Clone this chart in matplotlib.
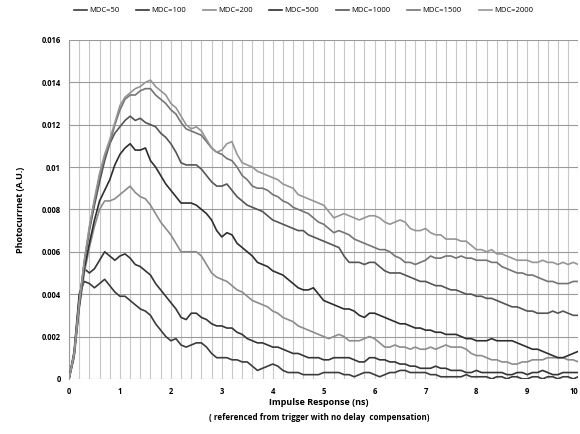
import numpy as np
import matplotlib
matplotlib.use("Agg")
import matplotlib.pyplot as plt
from matplotlib.ticker import MultipleLocator

# time axis, 0.1 ns sampling
t_ns = np.round(np.arange(0, 10.01, 0.1), 2)

mdc_2000 = [
    0.0000, 0.0012, 0.0036, 0.0056, 0.0072, 0.0085, 0.0097, 0.0106, 0.0113, 0.0121,
    0.0129, 0.0133, 0.0135, 0.0137, 0.0138, 0.0140, 0.0141, 0.0138, 0.0136, 0.0134,
    0.0130, 0.0128, 0.0124, 0.0120, 0.0118, 0.0119, 0.0117, 0.0113, 0.0109, 0.0107,
    0.0108, 0.0111, 0.0112, 0.0106, 0.0102, 0.0101, 0.0100, 0.0098, 0.0097, 0.0096,
    0.0095, 0.0094, 0.0092, 0.0091, 0.0090, 0.0087, 0.0086, 0.0085, 0.0084, 0.0083,
    0.0082, 0.0079, 0.0076, 0.0077, 0.0078, 0.0077, 0.0076, 0.0075, 0.0076, 0.0077,
    0.0077, 0.0076, 0.0074, 0.0073, 0.0074, 0.0075, 0.0074, 0.0071, 0.0070, 0.0070,
    0.0071, 0.0069, 0.0068, 0.0068, 0.0066, 0.0066, 0.0066, 0.0065, 0.0065, 0.0063,
    0.0061, 0.0061, 0.0060, 0.0061, 0.0059, 0.0059, 0.0058, 0.0057, 0.0056, 0.0056,
    0.0056, 0.0055, 0.0055, 0.0056, 0.0055, 0.0055, 0.0054, 0.0055, 0.0054, 0.0055,
    0.0054,
]

mdc_1500 = [
    0.0000, 0.0011, 0.0035, 0.0055, 0.0071, 0.0084, 0.0096, 0.0105, 0.0111, 0.0120,
    0.0127, 0.0132, 0.0134, 0.0134, 0.0136, 0.0137, 0.0137, 0.0134, 0.0132, 0.0130,
    0.0127, 0.0125, 0.0121, 0.0118, 0.0117, 0.0116, 0.0115, 0.0112, 0.0109, 0.0107,
    0.0106, 0.0104, 0.0103, 0.0100, 0.0096, 0.0094, 0.0091, 0.0090, 0.0090, 0.0089,
    0.0087, 0.0086, 0.0084, 0.0083, 0.0081, 0.0080, 0.0079, 0.0078, 0.0076, 0.0074,
    0.0073, 0.0071, 0.0069, 0.0070, 0.0069, 0.0068, 0.0066, 0.0065, 0.0064, 0.0063,
    0.0062, 0.0061, 0.0061, 0.0060, 0.0058, 0.0057, 0.0055, 0.0055, 0.0054, 0.0055,
    0.0056, 0.0058, 0.0057, 0.0057, 0.0058, 0.0058, 0.0057, 0.0058, 0.0057, 0.0057,
    0.0056, 0.0056, 0.0056, 0.0055, 0.0055, 0.0053, 0.0052, 0.0051, 0.0050, 0.0050,
    0.0049, 0.0049, 0.0048, 0.0047, 0.0046, 0.0046, 0.0045, 0.0045, 0.0045, 0.0046,
    0.0046,
]

mdc_1000 = [
    0.0000, 0.0012, 0.0036, 0.0055, 0.0070, 0.0082, 0.0093, 0.0103, 0.0111, 0.0116,
    0.0119, 0.0122, 0.0124, 0.0122, 0.0123, 0.0121, 0.0120, 0.0119, 0.0116, 0.0114,
    0.0111, 0.0107, 0.0102, 0.0101, 0.0101, 0.0101, 0.0099, 0.0096, 0.0093, 0.0091,
    0.0091, 0.0092, 0.0089, 0.0086, 0.0084, 0.0082, 0.0081, 0.0080, 0.0079, 0.0077,
    0.0075, 0.0074, 0.0073, 0.0072, 0.0071, 0.0070, 0.0070, 0.0068, 0.0067, 0.0066,
    0.0065, 0.0064, 0.0063, 0.0062, 0.0058, 0.0055, 0.0055, 0.0055, 0.0054, 0.0055,
    0.0055, 0.0053, 0.0051, 0.0050, 0.0050, 0.0050, 0.0049, 0.0048, 0.0047, 0.0046,
    0.0046, 0.0045, 0.0044, 0.0044, 0.0043, 0.0042, 0.0042, 0.0041, 0.0040, 0.0040,
    0.0039, 0.0039, 0.0038, 0.0038, 0.0037, 0.0036, 0.0035, 0.0034, 0.0034, 0.0033,
    0.0032, 0.0032, 0.0031, 0.0031, 0.0031, 0.0032, 0.0031, 0.0032, 0.0031, 0.0030,
    0.0030,
]

mdc_500 = [
    0.0000, 0.0011, 0.0034, 0.0052, 0.0064, 0.0075, 0.0084, 0.0089, 0.0094, 0.0101,
    0.0106, 0.0109, 0.0111, 0.0108, 0.0108, 0.0109, 0.0103, 0.0100, 0.0096, 0.0092,
    0.0089, 0.0086, 0.0083, 0.0083, 0.0083, 0.0082, 0.0080, 0.0078, 0.0075, 0.0070,
    0.0067, 0.0069, 0.0068, 0.0064, 0.0062, 0.0060, 0.0058, 0.0055, 0.0054, 0.0053,
    0.0051, 0.0050, 0.0049, 0.0047, 0.0045, 0.0043, 0.0042, 0.0042, 0.0043, 0.0040,
    0.0037, 0.0036, 0.0035, 0.0034, 0.0033, 0.0033, 0.0032, 0.0030, 0.0029, 0.0031,
    0.0031, 0.0030, 0.0029, 0.0028, 0.0027, 0.0026, 0.0026, 0.0025, 0.0024, 0.0024,
    0.0023, 0.0023, 0.0022, 0.0022, 0.0021, 0.0021, 0.0021, 0.0020, 0.0019, 0.0019,
    0.0018, 0.0018, 0.0018, 0.0019, 0.0018, 0.0018, 0.0018, 0.0018, 0.0017, 0.0016,
    0.0015, 0.0014, 0.0014, 0.0013, 0.0012, 0.0011, 0.0010, 0.0010, 0.0011, 0.0012,
    0.0013,
]

mdc_200 = [
    0.0000, 0.0010, 0.0033, 0.0050, 0.0062, 0.0072, 0.0080, 0.0084, 0.0084, 0.0085,
    0.0087, 0.0089, 0.0091, 0.0088, 0.0086, 0.0085, 0.0082, 0.0078, 0.0074, 0.0071,
    0.0068, 0.0064, 0.0060, 0.0060, 0.0060, 0.0060, 0.0058, 0.0054, 0.0050, 0.0048,
    0.0047, 0.0046, 0.0044, 0.0042, 0.0041, 0.0039, 0.0037, 0.0036, 0.0035, 0.0034,
    0.0032, 0.0031, 0.0029, 0.0028, 0.0027, 0.0025, 0.0024, 0.0023, 0.0022, 0.0021,
    0.0020, 0.0019, 0.0020, 0.0021, 0.0020, 0.0018, 0.0018, 0.0018, 0.0019, 0.0020,
    0.0019, 0.0017, 0.0015, 0.0015, 0.0016, 0.0015, 0.0015, 0.0014, 0.0015, 0.0014,
    0.0014, 0.0015, 0.0014, 0.0015, 0.0016, 0.0015, 0.0015, 0.0015, 0.0014, 0.0012,
    0.0011, 0.0011, 0.0010, 0.0009, 0.0009, 0.0008, 0.0008, 0.0007, 0.0007, 0.0008,
    0.0008, 0.0009, 0.0009, 0.0009, 0.0010, 0.0010, 0.0010, 0.0010, 0.0009, 0.0009,
    0.0008,
]

mdc_100 = [
    0.0000, 0.0012, 0.0038, 0.0052, 0.0050, 0.0052, 0.0056, 0.0060, 0.0058, 0.0056,
    0.0058, 0.0059, 0.0057, 0.0054, 0.0053, 0.0051, 0.0049, 0.0045, 0.0042, 0.0039,
    0.0036, 0.0033, 0.0029, 0.0028, 0.0031, 0.0031, 0.0029, 0.0028, 0.0026, 0.0025,
    0.0025, 0.0024, 0.0024, 0.0022, 0.0021, 0.0019, 0.0018, 0.0017, 0.0017, 0.0016,
    0.0015, 0.0015, 0.0014, 0.0013, 0.0012, 0.0012, 0.0011, 0.0010, 0.0010, 0.0010,
    0.0009, 0.0009, 0.0010, 0.0010, 0.0010, 0.0010, 0.0009, 0.0008, 0.0008, 0.0010,
    0.0010, 0.0009, 0.0009, 0.0008, 0.0008, 0.0007, 0.0007, 0.0006, 0.0006, 0.0005,
    0.0005, 0.0005, 0.0006, 0.0005, 0.0005, 0.0004, 0.0004, 0.0004, 0.0003, 0.0003,
    0.0004, 0.0003, 0.0003, 0.0003, 0.0003, 0.0003, 0.0002, 0.0002, 0.0003, 0.0003,
    0.0002, 0.0003, 0.0003, 0.0004, 0.0003, 0.0002, 0.0002, 0.0003, 0.0003, 0.0003,
    0.0003,
]

mdc_50 = [
    0.0000, 0.0013, 0.0040, 0.0046, 0.0045, 0.0043, 0.0045, 0.0047, 0.0044, 0.0041,
    0.0039, 0.0039, 0.0037, 0.0035, 0.0033, 0.0032, 0.0030, 0.0026, 0.0023, 0.0020,
    0.0018, 0.0019, 0.0016, 0.0015, 0.0016, 0.0017, 0.0017, 0.0015, 0.0012, 0.0010,
    0.0010, 0.0010, 0.0009, 0.0009, 0.0008, 0.0008, 0.0006, 0.0004, 0.0005, 0.0006,
    0.0007, 0.0006, 0.0004, 0.0003, 0.0003, 0.0003, 0.0002, 0.0002, 0.0002, 0.0002,
    0.0003, 0.0003, 0.0003, 0.0003, 0.0002, 0.0002, 0.0001, 0.0002, 0.0003, 0.0003,
    0.0002, 0.0001, 0.0002, 0.0003, 0.0003, 0.0004, 0.0004, 0.0003, 0.0003, 0.0003,
    0.0003, 0.0002, 0.0002, 0.0001, 0.0001, 0.0001, 0.0001, 0.0001, 0.0002, 0.0001,
    0.0001, 0.0001, 0.0001, 0.0000, 0.0001, 0.0001, 0.0000, 0.0001, 0.0001, 0.0000,
    0.0000, 0.0001, 0.0001, 0.0000, 0.0001, 0.0001, 0.0000, 0.0001, 0.0001, 0.0000,
    0.0001,
]

series_labels = ["MDC=50", "MDC=100", "MDC=200", "MDC=500", "MDC=1000", "MDC=1500", "MDC=2000"]
series_values = [mdc_50, mdc_100, mdc_200, mdc_500, mdc_1000, mdc_1500, mdc_2000]
series_colors = ["#3c3c3c", "#353535", "#8c8c8c", "#2e2e2e", "#555555", "#747474", "#959595"]

y_ticks = [0, 0.002, 0.004, 0.006, 0.008, 0.01, 0.012, 0.014, 0.016]
y_tick_labels = ["0", "0.002", "0.004", "0.006", "0.008", "0.01", "0.012", "0.014", "0.016"]
x_ticks = list(range(0, 11))

plt.rcParams["font.family"] = ["Open Sans", "DejaVu Sans"]

fig = plt.figure(figsize=(5.8, 4.34), dpi=100)
ax = fig.add_axes([0.119, 0.127, 0.878, 0.781])

for vals, lab, col in zip(series_values, series_labels, series_colors):
    ax.plot(t_ns, vals, color=col, lw=1.2, label=lab, zorder=3)

ax.set_xlim(0, 10)
ax.set_ylim(0, 0.016)
ax.set_xticks(x_ticks)
ax.set_xticklabels([str(v) for v in x_ticks], fontsize=5.5, fontweight="bold")
# keep the last tick label inside the figure edge
ax.get_xticklabels()[-1].set_horizontalalignment("right")
ax.set_yticks(y_ticks)
ax.set_yticklabels(y_tick_labels, fontsize=5.5, fontweight="bold")
ax.xaxis.set_minor_locator(MultipleLocator(0.2))
ax.tick_params(axis="both", which="both", length=0, pad=6)

ax.grid(True, which="major", axis="y", color="#9a9a9a", lw=0.8)
ax.grid(True, which="both", axis="x", color="#c8c8c8", lw=0.8)
for side in ["top", "right", "bottom"]:
    ax.spines[side].set_visible(False)
ax.spines["left"].set_color("#9a9a9a")
ax.spines["left"].set_linewidth(0.8)
ax.set_axisbelow(True)

ax.set_ylabel("Photocurrnet (A.U.)", fontsize=6.5, fontweight="bold", labelpad=12)
fig.text(0.55, 0.072, "Impulse Response (ns)", ha="center", va="center",
         fontsize=6.5, fontweight="bold")
fig.text(0.55, 0.037, "( referenced from trigger with no delay  compensation)", ha="center",
         va="center", fontsize=5.8, fontweight="bold")

leg = fig.legend(loc="upper left", bbox_to_anchor=(0.115, 1.0), ncol=7, frameon=False,
                 fontsize=5.5, handlelength=1.7, handletextpad=0.3, columnspacing=2.2)

fig.savefig("out.png", dpi=100)
